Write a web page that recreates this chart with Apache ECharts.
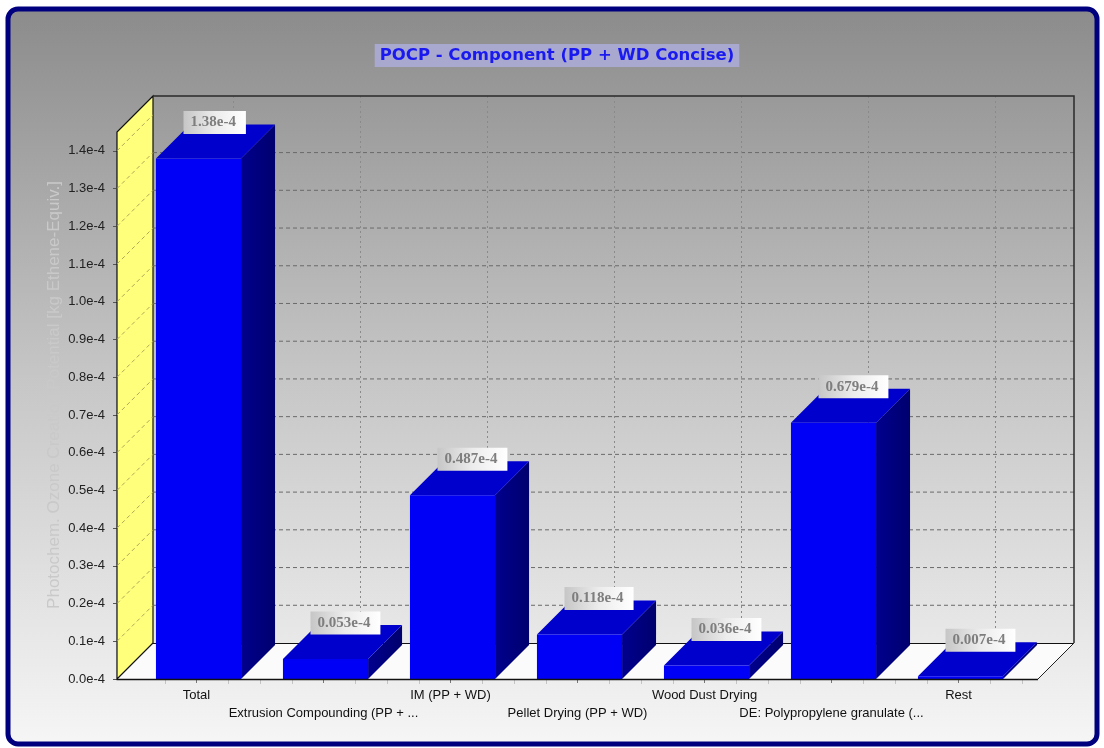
<!DOCTYPE html>
<html>
<head>
<meta charset="utf-8">
<script src="https://cdn.jsdelivr.net/npm/echarts@6/dist/echarts.min.js"></script>
<style>
  html, body { margin: 0; padding: 0; background: #ffffff; }
  #chart { width: 1104px; height: 748px; }
</style>
</head>
<body>
<div id="chart"></div>
<script>
// Component breakdown of the photochemical ozone creation potential
const CATEGORIES = [
  'Total',
  'Extrusion Compounding (PP + ...',
  'IM (PP + WD)',
  'Pellet Drying (PP + WD)',
  'Wood Dust Drying',
  'DE: Polypropylene granulate (...',
  'Rest'
];
// kg Ethene-Equiv.
const VALUES = [1.38e-4, 0.053e-4, 0.487e-4, 0.118e-4, 0.036e-4, 0.679e-4, 0.007e-4];
// y-axis tick values, in units of 1e-4
const Y_TICKS = [0.0, 0.1, 0.2, 0.3, 0.4, 0.5, 0.6, 0.7, 0.8, 0.9, 1.0, 1.1, 1.2, 1.3, 1.4];
const Y_MAX = 1.45e-4;

const TITLE = 'POCP - Component (PP + WD Concise)';
const Y_NAME = 'Photochem. Ozone Creation Potential [kg Ethene-Equiv.]';

// 3D look: depth of the box walls and of each bar, and how far the floor
// reaches past the first and last category band
const DEPTH = 36;
const BAR_DEPTH = 34;
const SIDE_PAD = 16;

function expLabel(v) {
  const m = v * 1e4;
  return (m >= 1 ? m.toFixed(2) : m.toFixed(3)) + 'e-4';
}

// floor, yellow side wall, back wall and its dashed grid
function renderWalls(params, api) {
  const cs = params.coordSys;
  const y0 = cs.y + cs.height, yTop = cs.y;
  const L = cs.x - SIDE_PAD, R = cs.x + cs.width + SIDE_PAD;
  const D = DEPTH;
  const ch = [];
  ch.push({ type: 'polygon', shape: { points: [[L, y0], [R, y0], [R + D, y0 - D], [L + D, y0 - D]] },
            style: { fill: '#fbfbfb' } });
  ch.push({ type: 'polygon', shape: { points: [[L, y0], [L, yTop], [L + D, yTop - D], [L + D, y0 - D]] },
            style: { fill: '#ffff7c', stroke: '#111111', lineWidth: 1.2 } });
  Y_TICKS.forEach(function (t, k) {
    const y = api.coord([0, t * 1e-4])[1];
    if (t > 0) {
      ch.push({ type: 'line', shape: { x1: L, y1: y, x2: L + D, y2: y - D },
                style: { stroke: '#b0a858', lineWidth: 1, lineDash: [4, 3] } });
      // the top tick's line would sit just under the wall's upper edge
      if (k < Y_TICKS.length - 1) {
        ch.push({ type: 'line', shape: { x1: L + D, y1: y - D, x2: R + D, y2: y - D },
                  style: { stroke: '#6a6a6a', lineWidth: 1, lineDash: [4, 3] } });
      }
    }
  });
  const band = api.size([1, 0])[0];
  CATEGORIES.forEach(function (c, i) {
    const x = Math.round(api.coord([i, 0])[0]) + D + 0.5;
    ch.push({ type: 'line', shape: { x1: x, y1: y0 - D, x2: x, y2: yTop - D },
              style: { stroke: '#8a8a8a', lineWidth: 1, lineDash: [2, 3] } });
    // minor marks under the front edge
    [-1, 1, 2, 3].forEach(function (k) {
      const mx = Math.round(api.coord([i, 0])[0] + k * band / 4) + 0.5;
      if (mx > L && mx < R) {
        ch.push({ type: 'line', shape: { x1: mx, y1: y0 + 1, x2: mx, y2: y0 + 5 },
                  style: { stroke: '#c4c4c4', lineWidth: 1 } });
      }
    });
  });
  // back wall outline and floor edges
  ch.push({ type: 'polyline', shape: { points: [[L + D, yTop - D], [R + D, yTop - D], [R + D, y0 - D]] },
            style: { stroke: '#2a2a2a', lineWidth: 1.5, fill: null } });
  ch.push({ type: 'line', shape: { x1: L + D, y1: y0 - D + 0.5, x2: R + D, y2: y0 - D + 0.5 },
            style: { stroke: '#111111', lineWidth: 1 } });
  ch.push({ type: 'line', shape: { x1: R, y1: y0, x2: R + D, y2: y0 - D },
            style: { stroke: '#222222', lineWidth: 1 } });
  return { type: 'group', children: ch };
}

function renderBar(params, api) {
  const i = api.value(0), v = api.value(1);
  const top = api.coord([i, v]);
  const base = api.coord([i, 0]);
  const w = api.size([1, 0])[0] * 0.67;
  const cx = top[0] + 2;
  const xl = cx - w / 2, xr = cx + w / 2, yT = top[1], yB = base[1];
  const d = BAR_DEPTH;
  return {
    type: 'group',
    children: [
      { type: 'polygon', shape: { points: [[xr, yT], [xr + d, yT - d], [xr + d, yB - d], [xr, yB]] },
        style: { fill: new echarts.graphic.LinearGradient(0, 0, 1, 0, [
          { offset: 0, color: '#00008e' }, { offset: 1, color: '#00006e' }]) } },
      { type: 'polygon', shape: { points: [[xl, yT], [xr, yT], [xr + d, yT - d], [xl + d, yT - d]] },
        style: { fill: '#0000cc' } },
      { type: 'rect', shape: { x: xl, y: yT, width: w, height: Math.max(yB - yT, 0.5) },
        style: { fill: '#0000f6' } },
      { type: 'text', x: cx - 15, y: yT - 36,
        style: {
          text: expLabel(v),
          font: 'bold 15px "Liberation Serif", serif',
          fill: '#7e7e7e',
          align: 'left', verticalAlign: 'middle',
          padding: [4, 10, 4, 7],
          backgroundColor: new echarts.graphic.LinearGradient(0, 0, 1, 0, [
            { offset: 0, color: '#c6c6c6' }, { offset: 0.5, color: '#ececec' }, { offset: 1, color: '#ffffff' }])
        } }
    ]
  };
}

// front floor edge on top of the bars
function renderFrontEdge(params, api) {
  const cs = params.coordSys;
  const y0 = cs.y + cs.height;
  return { type: 'line',
           shape: { x1: cs.x - SIDE_PAD, y1: y0 + 0.5, x2: cs.x + cs.width + SIDE_PAD, y2: y0 + 0.5 },
           style: { stroke: '#111111', lineWidth: 1.5 } };
}

const chart = echarts.init(document.getElementById('chart'), null, { renderer: 'canvas' });

chart.setOption({
  backgroundColor: '#ffffff',
  animation: false,
  graphic: [{
    type: 'rect', z: -10, silent: true,
    shape: { x: 8, y: 9, width: 1089, height: 735, r: 10 },
    style: {
      fill: new echarts.graphic.LinearGradient(0, 0, 0, 1, [
        { offset: 0, color: '#8b8b8b' }, { offset: 0.5, color: '#c6c6c6' }, { offset: 1, color: '#f6f6f6' }]),
      stroke: '#00007e', lineWidth: 5
    }
  }, {
    // y-axis title, rotated along the axis
    type: 'text', silent: true, x: 54, y: 395, rotation: Math.PI / 2,
    style: {
      text: Y_NAME, align: 'center', verticalAlign: 'middle',
      font: '17px Arial, "Liberation Sans", sans-serif', fill: '#c9c9c9'
    }
  }],
  title: {
    text: TITLE,
    left: 552, top: 44, textAlign: 'center',
    backgroundColor: '#a9a9cf',
    padding: [3, 5],
    textStyle: { color: '#1a1af0', fontWeight: 'bold', fontSize: 16.5, fontFamily: '"DejaVu Sans", Verdana, sans-serif' }
  },
  grid: { left: 133, right: 82, top: 132, bottom: 69, containLabel: false },
  xAxis: {
    type: 'category',
    data: CATEGORIES,
    axisLine: { show: false },
    axisTick: { show: true, alignWithLabel: true, length: 4, lineStyle: { color: '#777777' } },
    axisLabel: {
      interval: 0, margin: 7, color: '#111111', fontSize: 13, lineHeight: 18,
      fontFamily: 'Arial, "Liberation Sans", sans-serif',
      formatter: function (v, i) { return i % 2 ? '\n' + v : v; }
    },
    splitLine: { show: false }
  },
  yAxis: {
    type: 'value',
    min: 0, max: Y_MAX,
    offset: SIDE_PAD,
    axisLine: { show: true, lineStyle: { color: '#111111', width: 1.2 } },
    axisTick: { show: true, length: 4, lineStyle: { color: '#555555' },
                customValues: Y_TICKS.map(function (t) { return t * 1e-4; }) },
    axisLabel: {
      color: '#222222', fontSize: 13, margin: 12,
      fontFamily: 'Arial, "Liberation Sans", sans-serif',
      customValues: Y_TICKS.map(function (t) { return t * 1e-4; }),
      formatter: function (v) { return (v * 1e4).toFixed(1) + 'e-4'; }
    },
    splitLine: { show: false }
  },
  series: [
    { type: 'custom', name: 'walls', z: 1, clip: false, silent: true,
      renderItem: renderWalls, data: [[0, 0]], encode: { x: 0, y: 1 } },
    { type: 'custom', name: 'POCP', z: 2, clip: false,
      renderItem: renderBar, data: VALUES.map(function (v, i) { return [i, v]; }), encode: { x: 0, y: 1 } },
    { type: 'custom', name: 'edge', z: 3, clip: false, silent: true,
      renderItem: renderFrontEdge, data: [[0, 0]], encode: { x: 0, y: 1 } }
  ]
});
</script>
</body>
</html>
